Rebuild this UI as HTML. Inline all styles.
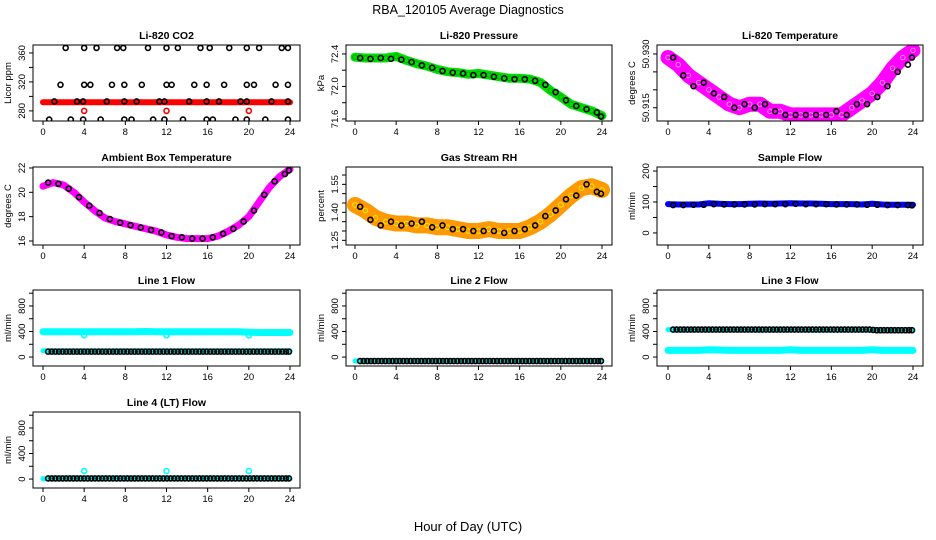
<!DOCTYPE html>
<html><head><meta charset="utf-8"><style>
body{margin:0;background:#fff}
svg{display:block;font-family:"Liberation Sans",sans-serif}
</style></head><body>
<svg id="c" width="936" height="540" viewBox="0 0 936 540">
<text x="468" y="14" text-anchor="middle" font-size="12.5">RBA_120105  Average Diagnostics</text>
<text x="468" y="531" text-anchor="middle" font-size="13">Hour of Day (UTC)</text>
</svg>
<script>
// shared x data
const hours = [0,1,2,3,4,5,6,7,8,9,10,11,12,13,14,15,16,17,18,19,20,21,22,23,24];
const xTicks = [0,4,8,12,16,20,24];
const halfHours = [0.5,1.5,2.5,3.5,4.5,5.5,6.5,7.5,8.5,9.5,10.5,11.5,12.5,13.5,14.5,15.5,16.5,17.5,18.5,19.5,20.5,21.5,22.5,23.5,23.9];
const flowX = [0.5,0.85,1.2,1.55,1.9,2.25,2.6,2.95,3.3,3.65,4.0,4.35,4.7,5.05,5.4,5.75,6.1,6.45,6.8,7.15,7.5,7.85,8.2,8.55,8.9,9.25,9.6,9.95,10.3,10.65,11.0,11.35,11.7,12.05,12.4,12.75,13.1,13.45,13.8,14.15,14.5,14.85,15.2,15.55,15.9,16.25,16.6,16.95,17.3,17.65,18.0,18.35,18.7,19.05,19.4,19.75,20.1,20.45,20.8,21.15,21.5,21.85,22.2,22.55,22.9,23.25,23.6,23.9];

// CO2
const co2Band = [292,292,292,292,292,292,292,292,292,292,292,292,292,292,292,292,292,292,292,292,292,292,292,292,292];
const co2BlackX = [2.2,4.0,5.2,7.2,7.8,10.2,12.0,13.1,15.3,16.2,18.1,19.8,21.0,23.2,23.8,
  1.7,4.0,4.6,6.7,7.9,9.6,12.0,12.5,14.7,15.9,17.6,19.8,20.5,22.6,23.8,
  1.1,3.3,3.9,6.2,7.9,9.1,11.3,11.8,14.2,15.9,17.1,19.2,19.8,22.2,23.8,
  0.6,2.7,3.9,5.6,7.9,8.6,10.7,11.8,13.6,15.9,16.5,18.7,19.8,21.6,23.8];
const co2BlackY = [367,367,367,367,367,367,367,367,367,367,367,367,367,367,367,
  316,316,316,316,316,316,316,316,316,316,316,316,316,316,316,
  293,293,293,293,293,293,293,293,293,293,293,293,293,293,293,
  268,268,268,268,268,268,268,268,268,268,268,268,268,268,268];
const co2RedX = [4,12,20];
const co2RedY = [280,280,280];

// Pressure
const presBand = [72.36,72.35,72.35,72.35,72.37,72.32,72.28,72.25,72.21,72.18,72.17,72.15,72.16,72.14,72.12,72.10,72.10,72.09,72.05,71.95,71.87,71.78,71.74,71.70,71.64];
const presBlack = [72.35,72.34,72.35,72.34,72.33,72.30,72.26,72.23,72.19,72.17,72.16,72.14,72.14,72.12,72.10,72.09,72.09,72.07,72.02,71.93,71.83,71.76,71.72,71.68,71.63];

// Li-820 temperature
const ltBand = [50.929,50.927,50.924,50.922,50.920,50.918,50.916,50.915,50.916,50.916,50.914,50.914,50.913,50.913,50.913,50.913,50.913,50.913,50.915,50.917,50.919,50.922,50.926,50.929,50.931];
const ltBlack = [50.929,50.924,50.921,50.922,50.919,50.918,50.915,50.916,50.915,50.916,50.914,50.913,50.913,50.913,50.913,50.913,50.914,50.913,50.916,50.916,50.918,50.921,50.925,50.927,50.929];

// Ambient box temperature
const ambBand = [20.5,20.8,20.6,20.0,19.2,18.5,17.9,17.6,17.4,17.2,17.0,16.8,16.5,16.3,16.2,16.2,16.2,16.4,16.8,17.3,18.0,19.2,20.4,21.3,21.9];
const ambBlack = [20.8,20.7,20.3,19.6,18.9,18.3,17.8,17.5,17.3,17.1,16.9,16.7,16.4,16.3,16.2,16.2,16.3,16.6,17.0,17.6,18.5,19.8,20.9,21.5,21.8];

// Gas stream RH
const rhBand = [1.44,1.41,1.37,1.35,1.34,1.34,1.33,1.33,1.32,1.32,1.31,1.30,1.30,1.31,1.30,1.30,1.30,1.32,1.35,1.39,1.44,1.49,1.53,1.54,1.52];
const rhBlack = [1.43,1.36,1.33,1.35,1.33,1.34,1.35,1.32,1.33,1.31,1.31,1.30,1.30,1.30,1.29,1.30,1.31,1.33,1.38,1.41,1.47,1.49,1.55,1.51,1.50];

// Sample flow
const sfBand = [93,92,92,92,96,94,93,93,94,95,94,95,96,95,95,94,93,93,93,92,94,92,91,91,91];
const sfBlack = [90,90,91,91,93,92,92,92,92,93,93,93,94,93,93,93,92,92,92,91,91,90,90,90,89];

// Line flows
const l1Upper = [395,395,395,395,395,395,395,395,395,395,400,395,395,395,395,395,395,395,395,395,390,385,385,385,385];
const l1Lower = [100,100,100,100,100,100,100,100,100,100,100,100,100,100,100,100,100,100,100,100,100,100,100,100,100];
const l1Black = [85,85,85,85,85,85,85,85,85,85,85,85,85,85,85,85,85,85,85,85,85,85,85,85,85,85,85,85,85,85,85,85,85,85,85,85,85,85,85,85,85,85,85,85,85,85,85,85,85,85,85,85,85,85,85,85,85,85,85,85,85,85,85,85,85,85,85,85];
const l1OutX = [4,12,20];
const l1OutY = [340,340,340];
const l2Cyan = [-62,-62,-62,-62,-62,-62,-62,-62,-62,-62,-62,-62,-62,-62,-62,-62,-62,-62,-62,-62,-62,-62,-62,-62,-62];
const l2Black = [-62,-62,-62,-62,-62,-62,-62,-62,-62,-62,-62,-62,-62,-62,-62,-62,-62,-62,-62,-62,-62,-62,-62,-62,-62,-62,-62,-62,-62,-62,-62,-62,-62,-62,-62,-62,-62,-62,-62,-62,-62,-62,-62,-62,-62,-62,-62,-62,-62,-62,-62,-62,-62,-62,-62,-62,-62,-62,-62,-62,-62,-62,-62,-62,-62,-62,-62,-62];
const l3Cyan = [105,105,105,105,115,110,105,105,105,105,105,105,115,105,105,105,105,105,105,105,115,105,105,105,105];
const l3Black = [430,430,430,430,430,430,430,430,430,430,430,430,430,430,430,430,430,430,430,430,430,430,430,430,430,430,430,430,430,430,430,430,430,430,430,430,430,430,430,430,430,430,430,430,430,430,430,430,430,430,430,430,430,430,430,430,425,420,420,420,420,420,420,420,420,420,420,420];
const l3CyanUpper = [430,430,430,430,430,430,430,430,430,430,430,430,430,430,430,430,430,430,430,430,420,420,420,420,420];
const l4Cyan = [5,5,5,5,5,5,5,5,5,5,5,5,5,5,5,5,5,5,5,5,5,5,5,5,5];
const l4Black = [10,10,10,10,10,10,10,10,10,10,10,10,10,10,10,10,10,10,10,10,10,10,10,10,10,10,10,10,10,10,10,10,10,10,10,10,10,10,10,10,10,10,10,10,10,10,10,10,10,10,10,10,10,10,10,10,10,10,10,10,10,10,10,10,10,10,10,10];
const l4OutX = [4,12,20];
const l4OutY = [125,125,125];

const svg = document.getElementById('c');
const NS = 'http://www.w3.org/2000/svg';
function mk(tag, attrs, parent){const e=document.createElementNS(NS,tag);for(const k in attrs)e.setAttribute(k,attrs[k]);(parent||svg).appendChild(e);return e;}

const cols = [{L:33,R:300,x0:43,x24:290},{L:346,R:612,x0:355,x24:602},{L:657,R:923,x0:668,x24:913}];
const rows = [{T:45,B:121},{T:167,B:245},{T:290,B:366},{T:412,B:488}];

function panel(cfg){
  const c=cols[cfg.col], r=rows[cfg.row];
  const g=mk('g',{});
  
  
  const sx=h=>c.x0+(h/24)*(c.x24-c.x0);
  const sy=v=>r.B-(v-cfg.ymin)/(cfg.ymax-cfg.ymin)*(r.B-r.T);
  const t=mk('text',{x:(c.L+c.R)/2,y:r.T-6,'text-anchor':'middle','font-size':'10.5','font-weight':'bold'},g);
  t.textContent=cfg.title;
  
  
  const clip=mk('clipPath',{id:'clip-'+cfg.name},g);
  mk('rect',{x:c.L,y:r.T,width:c.R-c.L,height:r.B-r.T},clip);
  const marks=mk('g',{'clip-path':'url(#clip-'+cfg.name+')'},g);
  
  
  (cfg.bands||[]).forEach(b=>{
    const pts=b.xs.map((x,i)=>sx(x).toFixed(1)+','+sy(b.ys[i]).toFixed(1)).join(' ');
    const pl=mk('polyline',{points:pts,fill:'none',stroke:b.color,'stroke-width':b.w,'stroke-linejoin':'round','stroke-linecap':'round'},marks);
    
    
    if(b.dots){
      b.xs.forEach((x,i)=>{
        const d=mk('circle',{cx:sx(x),cy:sy(b.ys[i]),r:2.3,fill:'none',stroke:b.dots,'stroke-width':1},marks);
        
        
      });
    }
  });
  (cfg.points||[]).forEach(p=>{
    p.xs.forEach((x,i)=>{
      const d=mk('circle',{cx:sx(x),cy:sy(p.ys[i]),r:p.r||2.5,fill:'none',stroke:p.color,'stroke-width':1.6},marks);
      
      
    });
  });
  const bx=mk('rect',{x:c.L,y:r.T,width:c.R-c.L,height:r.B-r.T,fill:'none',stroke:'#000','stroke-width':1},g);
  
  
  const xa=mk('g',{},g);
  
  
  xTicks.forEach(v=>{
    mk('line',{x1:sx(v),x2:sx(v),y1:r.B,y2:r.B+4,stroke:'#000'},xa);
    const l=mk('text',{x:sx(v),y:r.B+14,'text-anchor':'middle','font-size':'9.5'},xa);
    l.textContent=v;
    
    
  });
  const ya=mk('g',{},g);
  
  
  cfg.yticks.forEach(v=>{
    mk('line',{x1:c.L,x2:c.L-4,y1:sy(v),y2:sy(v),stroke:'#000'},ya);
  });
  cfg.ylabels.forEach((v,i)=>{
    const y=sy(v);
    const l=mk('text',{x:c.L-8,y:y,'text-anchor':'middle','font-size':'9.5',transform:`rotate(-90 ${c.L-8} ${y})`},ya);
    l.textContent=cfg.ylabelText[i];
    
    
  });
  const yt=mk('text',{x:c.L-22,y:(r.T+r.B)/2,'text-anchor':'middle','font-size':'9.5',transform:`rotate(-90 ${c.L-22} ${(r.T+r.B)/2})`},g);
  yt.textContent=cfg.ytitle;
  
  
}

const flowTicks=[0,200,400,600,800,1000];
panel({name:'co2-panel',col:0,row:0,title:'Li-820 CO2',ymin:266,ymax:371,yticks:[280,300,320,340,360],ylabels:[280,320,360],ylabelText:['280','320','360'],ytitle:'Licor ppm',
  bands:[{xs:hours,ys:co2Band,color:'#f00',w:6}],
  points:[{xs:co2BlackX,ys:co2BlackY,color:'#000'},{xs:co2RedX,ys:co2RedY,color:'#f00'}]});
panel({name:'pressure-panel',col:1,row:0,title:'Li-820 Pressure',ymin:71.575,ymax:72.51,yticks:[71.6,71.8,72.0,72.2,72.4],ylabels:[71.6,72.0,72.4],ylabelText:['71.6','72.0','72.4'],ytitle:'kPa',
  bands:[{xs:hours,ys:presBand,color:'#0d0',w:9,dots:'#0a0'}],
  points:[{xs:halfHours,ys:presBlack,color:'#000'}]});
panel({name:'li820-temperature-panel',col:2,row:0,title:'Li-820 Temperature',ymin:50.9113,ymax:50.9325,yticks:[50.915,50.92,50.925,50.93],ylabels:[50.915,50.93],ylabelText:['50.915','50.930'],ytitle:'degrees C',
  bands:[{xs:hours,ys:ltBand,color:'#f0f',w:15,dots:'#f8f'}],
  points:[{xs:halfHours,ys:ltBlack,color:'#000'}]});
panel({name:'ambient-temperature-panel',col:0,row:1,title:'Ambient Box Temperature',ymin:15.67,ymax:22.08,yticks:[16,18,20,22],ylabels:[16,18,20,22],ylabelText:['16','18','20','22'],ytitle:'degrees C',
  bands:[{xs:hours,ys:ambBand,color:'#f0f',w:7}],
  points:[{xs:halfHours,ys:ambBlack,color:'#000'}]});
panel({name:'rh-panel',col:1,row:1,title:'Gas Stream RH',ymin:1.225,ymax:1.643,yticks:[1.25,1.3,1.35,1.4,1.45,1.5,1.55,1.6],ylabels:[1.25,1.4,1.55],ylabelText:['1.25','1.40','1.55'],ytitle:'percent',
  bands:[{xs:hours,ys:rhBand,color:'#f90',w:16,dots:'#fe0'}],
  points:[{xs:halfHours,ys:rhBlack,color:'#000'}]});
panel({name:'sample-flow-panel',col:2,row:1,title:'Sample Flow',ymin:-39,ymax:213,yticks:[0,50,100,150,200],ylabels:[0,100,200],ylabelText:['0','100','200'],ytitle:'ml/min',
  bands:[{xs:hours,ys:sfBand,color:'#00f',w:6}],
  points:[{xs:halfHours,ys:sfBlack,color:'#000'}]});
panel({name:'line1-flow-panel',col:0,row:2,title:'Line 1 Flow',ymin:-140,ymax:1050,yticks:flowTicks,ylabels:[0,400,800],ylabelText:['0','400','800'],ytitle:'ml/min',
  bands:[{xs:hours,ys:l1Upper,color:'#0ff',w:7},{xs:hours,ys:l1Lower,color:'#0ff',w:5}],
  points:[{xs:flowX,ys:l1Black,color:'#000'},{xs:l1OutX,ys:l1OutY,color:'#0ff'}]});
panel({name:'line2-flow-panel',col:1,row:2,title:'Line 2 Flow',ymin:-140,ymax:1050,yticks:flowTicks,ylabels:[0,400,800],ylabelText:['0','400','800'],ytitle:'ml/min',
  bands:[{xs:hours,ys:l2Cyan,color:'#0ff',w:5}],
  points:[{xs:flowX,ys:l2Black,color:'#000'}]});
panel({name:'line3-flow-panel',col:2,row:2,title:'Line 3 Flow',ymin:-140,ymax:1050,yticks:flowTicks,ylabels:[0,400,800],ylabelText:['0','400','800'],ytitle:'ml/min',
  bands:[{xs:hours,ys:l3Cyan,color:'#0ff',w:7},{xs:hours,ys:l3CyanUpper,color:'#0ff',w:5}],
  points:[{xs:flowX,ys:l3Black,color:'#000'}]});
panel({name:'line4-flow-panel',col:0,row:3,title:'Line 4 (LT) Flow',ymin:-140,ymax:1050,yticks:flowTicks,ylabels:[0,400,800],ylabelText:['0','400','800'],ytitle:'ml/min',
  bands:[{xs:hours,ys:l4Cyan,color:'#0ff',w:5}],
  points:[{xs:flowX,ys:l4Black,color:'#000'},{xs:l4OutX,ys:l4OutY,color:'#0ff'}]});
</script>
</body></html>
